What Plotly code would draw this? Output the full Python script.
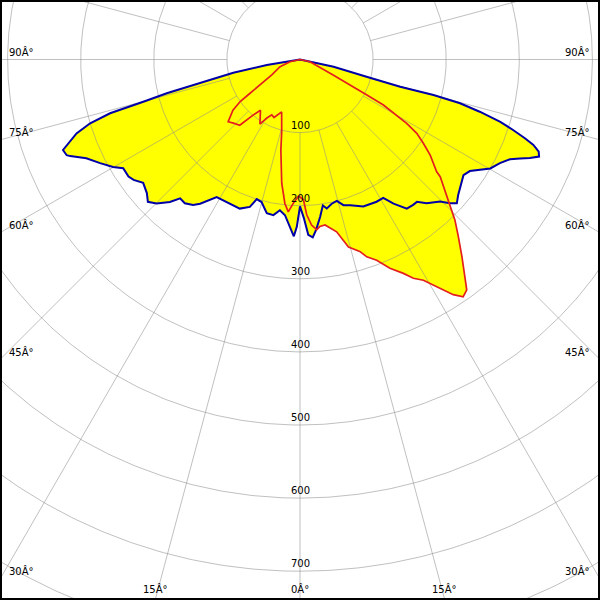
import numpy as np
import plotly.graph_objects as go

# Luminous intensity curves (cd/klm). gamma: 0 = straight down, negative = left half-plane.
blue_gamma = [-90, -81.5, -80.6, -78.8, -76.9, -75.8, -74.9, -74.6, -74.2, -73.1, -71.7, -69.1,
              -67.7, -67.2, -65.2, -62.6, -60.1, -58.4, -55.7, -54.1, -51.8, -48.9, -46.9, -44.9,
              -42.4, -40.8, -38.7, -36.3, -34.7, -31.2, -27.3, -22.0, -18.8, -17.2, -15.1, -12.2,
              -9.7, -7.6, -5.5, -3.4, -2.0, -1.1, 0, 1.4, 2.7, 4.1, 5.4, 7.3, 8.9, 10.2, 12.4,
              14.6, 16.6, 19.0, 23.3, 28.3, 31.0, 33.0, 35.6, 37.9, 39.4, 41.4, 44.6, 46.2, 47.5,
              49.4, 51.5, 54.7, 56.7, 58.5, 60.2, 62.6, 64.6, 65.8, 66.8, 67.9, 68.9, 69.9, 70.7,
              71.7, 72.7, 73.8, 74.7, 75.1, 74.8, 75.5, 77.8, 90]
blue_cd = [0, 14, 46, 93, 140, 188, 222, 246, 270, 300, 322, 347,
           345, 341, 322, 308, 295, 284, 284, 281, 273, 278, 285, 278,
           264, 251, 252, 247, 240, 220, 219, 220, 213, 200, 202, 215,
           216, 208, 214, 231, 242, 229, 201, 217, 240, 244, 234, 217, 202, 207, 202,
           200, 208, 211, 219, 221, 221, 235, 251, 252, 252, 262, 273, 284, 291,
           285, 280, 274, 278, 289, 300, 308, 318, 330, 342, 353, 350, 340, 326,
           307, 287, 256, 227, 189, 142, 94, 47, 0]

red_gamma = [90, 77.6, 65.0, 63.0, 62.0, 61.4, 60.1, 59.1, 57.7, 55.8, 53.7, 50.6, 50.1, 46.9,
             45.2, 44.0, 41.8, 39.4, 35.9, 34.5, 33.1, 31.9, 30.6, 29.2, 27.4, 25.8, 23.3, 20.9,
             18.7, 17.3, 14.5, 12.0, 8.6, 6.8, 5.6, 4.0, 2.5, 1.4, 0, -0.7, -2.7, -4.4, -6.0,
             -8.4, -11.9, -14.2, -19.3, -24.1, -27.0, -29.5, -31.8, -37.9, -40.1, -41.4, -42.5,
             -46.3, -49.1, -52.9, -54.9, -55.9, -57.5, -61.3, -70.2, -77.6, -90]
red_cd = [0, 14, 50, 82, 103, 130, 153, 170, 189, 204, 221, 242, 250, 275,
          292, 305, 325, 349, 389, 394, 384, 371, 358, 346, 337, 325, 311, 294,
          285, 275, 265, 241, 229, 230, 234, 227, 213, 192, 188, 187, 197, 209, 198,
          171, 127, 102, 76, 87, 85, 92, 104, 88, 99, 110, 122,
          126, 130, 115, 100, 83, 65, 44, 29, 14, 0]

radial_ticks = [100, 200, 300, 400, 500, 600, 700]
grid_circles = [100, 200, 300, 400, 500, 600, 700, 800, 900]
spoke_angles = list(range(0, 360, 15))
side_angle_labels = [90, 75, 60, 45, 30]
bottom_angle_labels = [-15, 0, 15]
DEG = "\u00c2\u00b0"

# view geometry
W, H = 600, 600
PX_PER_CD = 0.731
CX, CY = 300, 59.5
x_min, x_max = -CX / PX_PER_CD, (W - CX) / PX_PER_CD
y_min, y_max = -(H - CY) / PX_PER_CD, CY / PX_PER_CD


def polar_xy(gamma_deg, r):
    g = np.radians(np.asarray(gamma_deg, dtype=float))
    r = np.asarray(r, dtype=float)
    return r * np.sin(g), -r * np.cos(g)


fig = go.Figure()
YELLOW = "#ffff00"
BLUE = "#0000a8"
RED = "#e41e1e"
GRID = "rgba(140,140,140,0.55)"

bx, by = polar_xy(blue_gamma, blue_cd)
rx, ry = polar_xy(red_gamma, red_cd)

for xx, yy in ((bx, by), (rx, ry)):
    fig.add_trace(go.Scatter(x=xx, y=yy, mode="lines", fill="toself", fillcolor=YELLOW,
                             line=dict(width=0, color=YELLOW), hoverinfo="skip"))

# grid circles
t = np.linspace(0, 360, 721)
cxs, cys = [], []
for rc in grid_circles:
    x, y = polar_xy(t, np.full_like(t, rc))
    cxs += list(x) + [None]
    cys += list(y) + [None]
fig.add_trace(go.Scatter(x=cxs, y=cys, mode="lines", line=dict(color=GRID, width=1),
                         hoverinfo="skip"))

# spokes (start at innermost circle)
sxs, sys_ = [], []
for a in spoke_angles:
    x, y = polar_xy([a, a], [grid_circles[0], 1200])
    sxs += list(x) + [None]
    sys_ += list(y) + [None]
fig.add_trace(go.Scatter(x=sxs, y=sys_, mode="lines", line=dict(color=GRID, width=1),
                         hoverinfo="skip"))

fig.add_trace(go.Scatter(x=bx, y=by, mode="lines", line=dict(color=BLUE, width=2),
                         hoverinfo="skip"))
fig.add_trace(go.Scatter(x=rx, y=ry, mode="lines", line=dict(color=RED, width=1.7),
                         hoverinfo="skip"))

font = dict(family="DejaVu Sans", size=10, color="black")
ann = []
for rv in radial_ticks:
    ann.append(dict(x=0, y=-rv, xref="x", yref="y", text=str(rv), showarrow=False,
                    xanchor="center", yanchor="bottom", font=font, yshift=0))
for a in side_angle_labels:
    g = np.radians(a)
    # crossing of the spoke with the left / right edge
    yl = -abs(x_min) / np.tan(g) if a < 90 else 0.0
    yr = -abs(x_max) / np.tan(g) if a < 90 else 0.0
    ann.append(dict(x=x_min, y=yl, xref="x", yref="y", text=f"{a}{DEG}", showarrow=False,
                    xanchor="left", yanchor="bottom", xshift=7, font=font))
    ann.append(dict(x=x_max, y=yr, xref="x", yref="y", text=f"{a}{DEG}", showarrow=False,
                    xanchor="right", yanchor="bottom", xshift=-8, font=font))
for a in bottom_angle_labels:
    xb = abs(y_min) * np.tan(np.radians(a))
    ann.append(dict(x=xb, y=y_min, xref="x", yref="y", text=f"{abs(a)}{DEG}", showarrow=False,
                    xanchor="center", yanchor="bottom", yshift=3, font=font))

fig.update_layout(
    width=W, height=H, margin=dict(l=0, r=0, t=0, b=0),
    paper_bgcolor="white", plot_bgcolor="white", showlegend=False,
    xaxis=dict(range=[x_min, x_max], visible=False, fixedrange=True),
    yaxis=dict(range=[y_min, y_max], visible=False, fixedrange=True),
    annotations=ann,
    shapes=[dict(type="rect", xref="paper", yref="paper", x0=0, x1=1, y0=0, y1=1,
                 line=dict(color="black", width=4), layer="above")],
)

fig.write_html("out.html", config={"displayModeBar": False},
               post_script="document.body.style.margin='0';document.body.style.overflow='hidden';")
